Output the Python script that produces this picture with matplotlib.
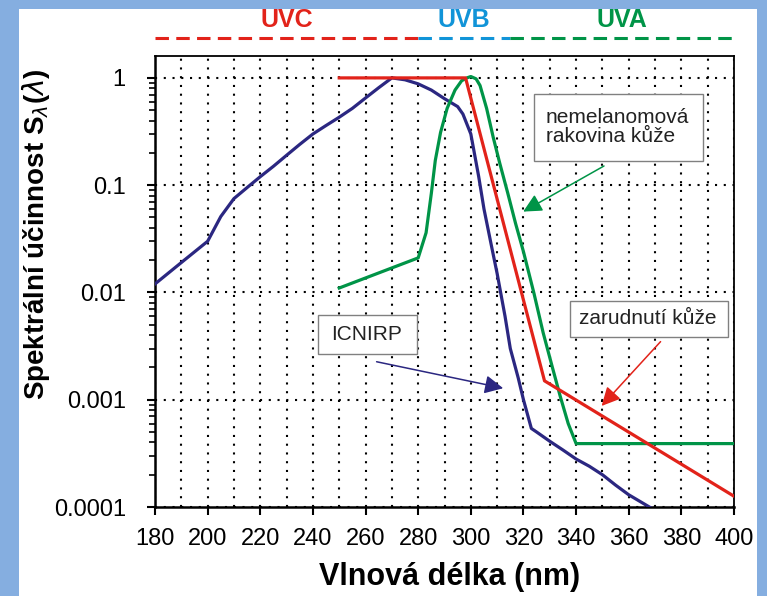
import numpy as np
import matplotlib
matplotlib.use('Agg')
import matplotlib.pyplot as plt
import matplotlib.transforms as mtransforms
from matplotlib.patches import Rectangle
from matplotlib.ticker import FixedLocator, FixedFormatter, MultipleLocator, LogLocator, NullFormatter

# ICNIRP curve
icnirp_nm = [180, 190, 200, 205, 210, 215, 220, 225, 230, 235, 240, 245, 250, 255, 260, 265,
             270, 275, 280, 285, 290, 295, 297, 300, 303, 305, 308, 310, 313, 315, 318, 320,
             323, 325, 330, 335, 340, 345, 350, 355, 360, 365, 370]
icnirp_s = [0.012, 0.019, 0.030, 0.051, 0.075, 0.095, 0.12, 0.15, 0.19, 0.24, 0.30, 0.36,
            0.43, 0.52, 0.65, 0.81, 1.0, 0.96, 0.88, 0.77, 0.64, 0.54, 0.46, 0.30, 0.12,
            0.06, 0.026, 0.015, 0.006, 0.003, 0.0016, 0.001, 0.00054, 0.0005, 0.00041,
            0.00034, 0.00028, 0.00024, 0.0002, 0.00016, 0.00013, 0.00011, 0.000093]

# zarudnuti kuze
ery_nm = [250, 298, 328, 400]
ery_s = [1.0, 1.0, 0.0015, 0.000126]

# nemelanomova rakovina kuze
nmsc_nm = [250, 280, 283, 285, 286.5, 288.5, 291, 294, 296.5, 298.5, 300, 302, 303.5, 306,
           308.5, 311, 314, 317, 320, 324, 327.5, 331, 334, 337, 340, 400]
nmsc_s = [0.011, 0.021, 0.036, 0.084, 0.17, 0.31, 0.52, 0.77, 0.94, 1.0, 1.03, 0.98, 0.85,
          0.52, 0.28, 0.16, 0.085, 0.044, 0.024, 0.0098, 0.0042, 0.002, 0.00107, 0.0006,
          0.00039, 0.00039]

bands = ['UVC', 'UVB', 'UVA']
band_edges = [180, 280, 315, 400]

ytick_vals = [0.0001, 0.001, 0.01, 0.1, 1]
ytick_labels = ['0.0001', '0.001', '0.01', '0.1', '1']
xtick_vals = list(range(180, 401, 20))

RED = '#e2231a'
GREEN = '#009447'
NAVY = '#2b2781'
BAND_COLORS = [RED, '#1194d8', GREEN]

fig = plt.figure(figsize=(7.67, 5.96), dpi=100, facecolor='#85aee0')
fig.add_artist(Rectangle((19 / 767, 0), (757 - 19) / 767, (596 - 9) / 596,
                         transform=fig.transFigure, facecolor='white',
                         edgecolor='none', zorder=0))
ax = fig.add_axes([155 / 767, 89 / 596, 579 / 767, 451 / 596])

ax.plot(icnirp_nm, icnirp_s, color=NAVY, lw=2.3, zorder=3)
ax.plot(nmsc_nm, nmsc_s, color=GREEN, lw=2.3, zorder=3)
ax.plot(ery_nm, ery_s, color=RED, lw=2.3, zorder=4)

ax.set_yscale('log')
ax.set_xlim(180, 400)
ax.set_ylim(1e-4, 1.6)

ax.xaxis.set_major_locator(FixedLocator(xtick_vals))
ax.xaxis.set_minor_locator(MultipleLocator(10))
ax.yaxis.set_major_locator(FixedLocator(ytick_vals))
ax.yaxis.set_major_formatter(FixedFormatter(ytick_labels))
ax.yaxis.set_minor_locator(LogLocator(base=10, subs=np.arange(2, 10)))
ax.yaxis.set_minor_formatter(NullFormatter())
ax.tick_params(which='major', direction='out', length=6, width=1.5, labelsize=17)
ax.tick_params(axis='x', which='major', pad=9)
ax.tick_params(axis='y', which='major', pad=15)
ax.tick_params(axis='x', which='minor', length=0)
ax.tick_params(axis='y', which='minor', direction='out', length=4, width=1.2)
for lab in ax.get_xticklabels() + ax.get_yticklabels():
    lab.set_family('Liberation Sans')

dots = (0, (1, 3.2))
ax.grid(True, which='both', axis='x', color='black', linestyle=dots, linewidth=1.5)
ax.grid(True, which='major', axis='y', color='black', linestyle=dots, linewidth=1.5)
ax.set_axisbelow(True)

for side in ['left', 'bottom']:
    ax.spines[side].set_linewidth(1.8)
for side in ['top', 'right']:
    ax.spines[side].set_linewidth(1.3)

# UV bands above the plot
trans = mtransforms.blended_transform_factory(ax.transData, ax.transAxes)
for name, lo, hi, col in zip(bands, band_edges[:-1], band_edges[1:], BAND_COLORS):
    ax.plot([lo, hi], [1.04, 1.04], transform=trans, clip_on=False, color=col,
            lw=2.2, linestyle=(0, (4.4, 2.4)))
    ax.text((lo + hi) / 2, 1.08, name, transform=trans, color=col, fontsize=18,
            fontweight='bold', family='Liberation Sans', ha='center', va='center')

# labels
ax.text(-0.2055, 0.606, 'Spektrální účinnost S$_{\\lambda}$($\\lambda$)', transform=ax.transAxes,
        rotation=90, ha='center', va='center', fontsize=20, fontweight='bold',
        family='Liberation Sans')
ax.text(0.508, -0.155, 'Vlnová délka (nm)', transform=ax.transAxes, ha='center',
        va='center', fontsize=22, fontweight='bold', family='Liberation Sans')

# annotation boxes
box_kw = dict(facecolor='white', edgecolor='#808080', lw=1.0, zorder=5)
ax.add_patch(Rectangle((324.0, 0.168), 388.2 - 324.0, 0.709 - 0.168, **box_kw))
ax.add_patch(Rectangle((337.7, 0.00382), 397.6 - 337.7, 0.00838 - 0.00382, **box_kw))
ax.add_patch(Rectangle((241.9, 0.00267), 279.4 - 241.9, 0.00617 - 0.00267, **box_kw))
txt_kw = dict(fontsize=15, family='Liberation Sans', color='#222222', zorder=6, va='center')
ax.text(328.5, 0.345, 'nemelanomová\nrakovina kůže', ha='left', linespacing=1.0, **txt_kw)
ax.text(367.1, 0.00566, 'zarudnutí kůže', ha='center', **txt_kw)
ax.text(260.5, 0.00406, 'ICNIRP', ha='center', **txt_kw)

arrow_specs = [((350.6, 0.151), (319.9, 0.0567), GREEN),
               ((372.1, 0.00348), (349.7, 0.000875), RED),
               ((264.2, 0.00226), (312.3, 0.00128), NAVY)]
for tail, tip, col in arrow_specs:
    ax.annotate('', xy=tip, xytext=tail,
                arrowprops=dict(arrowstyle='-|>', color=col, lw=1.1,
                                mutation_scale=28, shrinkA=0, shrinkB=0),
                zorder=6)

fig.savefig('out.png', dpi=100, facecolor=fig.get_facecolor())
